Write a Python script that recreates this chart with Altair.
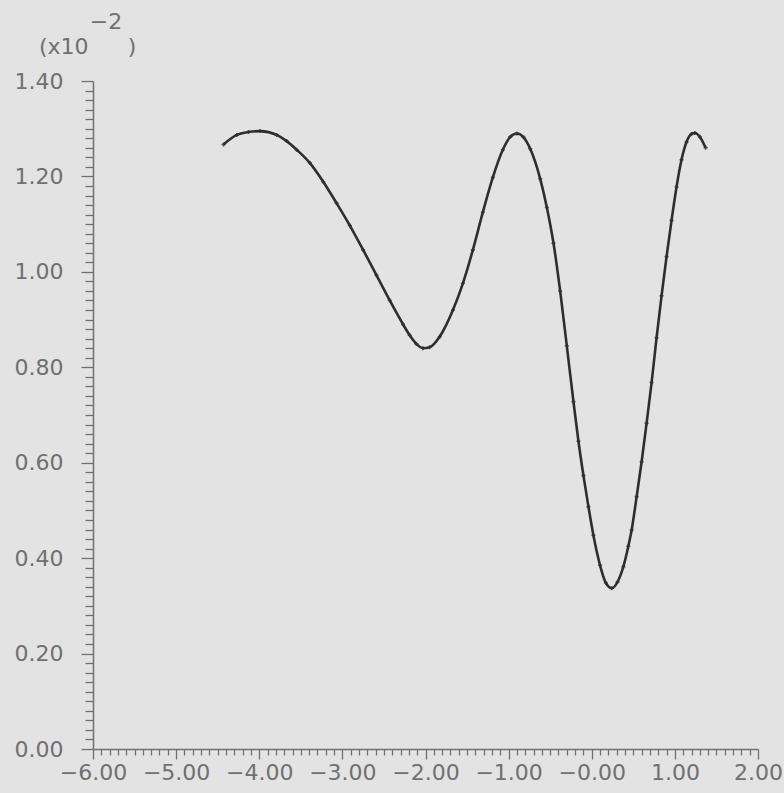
import altair as alt
import pandas as pd

# curve values (y in units of 1e-2)
x_vals = [-4.43, -4.27, -4.13, -3.99, -3.79, -3.67, -3.55, -3.39, -3.23, -3.07, -2.91, -2.75,
          -2.59, -2.43, -2.27, -2.19, -2.11, -2.03, -1.95, -1.83, -1.67, -1.55, -1.43, -1.31,
          -1.19, -1.07, -0.98, -0.90, -0.82, -0.74, -0.62, -0.54, -0.46, -0.38, -0.30, -0.22,
          -0.16, -0.10, -0.04, 0.02, 0.10, 0.17, 0.24, 0.31, 0.38, 0.44, 0.48, 0.54, 0.60,
          0.66, 0.72, 0.78, 0.84, 0.90, 0.96, 1.02, 1.08, 1.14, 1.20, 1.24, 1.30, 1.37]
y_vals = [1.267, 1.287, 1.293, 1.295, 1.287, 1.274, 1.256, 1.228, 1.189, 1.144, 1.097, 1.046,
          0.993, 0.940, 0.890, 0.867, 0.849, 0.840, 0.842, 0.864, 0.920, 0.976, 1.046, 1.125,
          1.198, 1.256, 1.283, 1.290, 1.282, 1.258, 1.195, 1.135, 1.060, 0.960, 0.845, 0.728,
          0.645, 0.573, 0.508, 0.448, 0.385, 0.348, 0.337, 0.350, 0.382, 0.425, 0.459, 0.529, 0.602,
          0.683, 0.768, 0.862, 0.950, 1.032, 1.108, 1.178, 1.235, 1.272, 1.289, 1.291, 1.283, 1.260]

x_ticks = [round(-6 + i * 0.1, 1) for i in range(81)]
y_ticks = [round(i * 0.02, 2) for i in range(71)]
title_parts = ["(x10", "\u22122", ")"]

FONT = "DejaVu Sans"
AX = "#707070"
LINE = "#2e2e2e"
BG = "#e3e3e3"

df = pd.DataFrame({"x": x_vals, "y": y_vals})

x_major = "abs(round(datum.value*10)) % 10 == 0"
y_major = "abs(round(datum.value*50)) % 10 == 0"

x_axis = alt.Axis(
    values=x_ticks, tickCount=500, title=None, grid=False,
    domainColor=AX, domainWidth=1.5, tickColor=AX, tickWidth=1.3,
    tickSize={"expr": f"{x_major} ? 10 : 6"},
    labelExpr=f"{x_major} ? (datum.value == 0 ? '\u22120.00' : format(datum.value, '.2f')) : ''",
    labelFont=FONT, labelFontSize=22, labelColor=AX, labelPadding=3,
    labelOverlap=False, labelFlush=False,
)
y_axis = alt.Axis(
    values=y_ticks, tickCount=500, title=None, grid=False,
    domainColor=AX, domainWidth=1.5, tickColor=AX, tickWidth=1.3,
    tickSize={"expr": f"{y_major} ? 12 : 8"},
    labelExpr=f"{y_major} ? format(datum.value, '.2f') : ''",
    labelFont=FONT, labelFontSize=22, labelColor=AX, labelPadding=18,
    labelOverlap=False, labelFlush=False,
)

xs = alt.Scale(domain=[-6, 2], nice=False, zero=False)
ys = alt.Scale(domain=[0, 1.4], nice=False, zero=False)

line = alt.Chart(df).mark_line(color=LINE, strokeWidth=2.6, interpolate="monotone").encode(
    x=alt.X("x:Q", scale=xs, axis=x_axis),
    y=alt.Y("y:Q", scale=ys, axis=y_axis),
)
pts = alt.Chart(df).mark_point(shape="cross", filled=True, size=16, color=LINE, opacity=0.8).encode(
    x=alt.X("x:Q", scale=xs),
    y=alt.Y("y:Q", scale=ys),
)

t1 = alt.Chart(pd.DataFrame({"t": [title_parts[0]]})).mark_text(
    font=FONT, fontSize=22, color=AX, align="left", baseline="middle"
).encode(text="t:N", x=alt.value(-54), y=alt.value(-34))
t2 = alt.Chart(pd.DataFrame({"t": [title_parts[1]]})).mark_text(
    font=FONT, fontSize=22, color=AX, align="center", baseline="middle"
).encode(text="t:N", x=alt.value(13), y=alt.value(-59))
t3 = alt.Chart(pd.DataFrame({"t": [title_parts[2]]})).mark_text(
    font=FONT, fontSize=22, color=AX, align="center", baseline="middle"
).encode(text="t:N", x=alt.value(39), y=alt.value(-34))

chart = alt.layer(line, pts, t1, t2, t3).properties(
    width=665, height=668,
    background=BG,
    padding={"left": 93, "top": 81, "right": 26, "bottom": 44},
    autosize=alt.AutoSizeParams(type="none"),
).configure_view(stroke=None)

chart.save("out.html", embed_options={"renderer": "svg", "actions": False})
